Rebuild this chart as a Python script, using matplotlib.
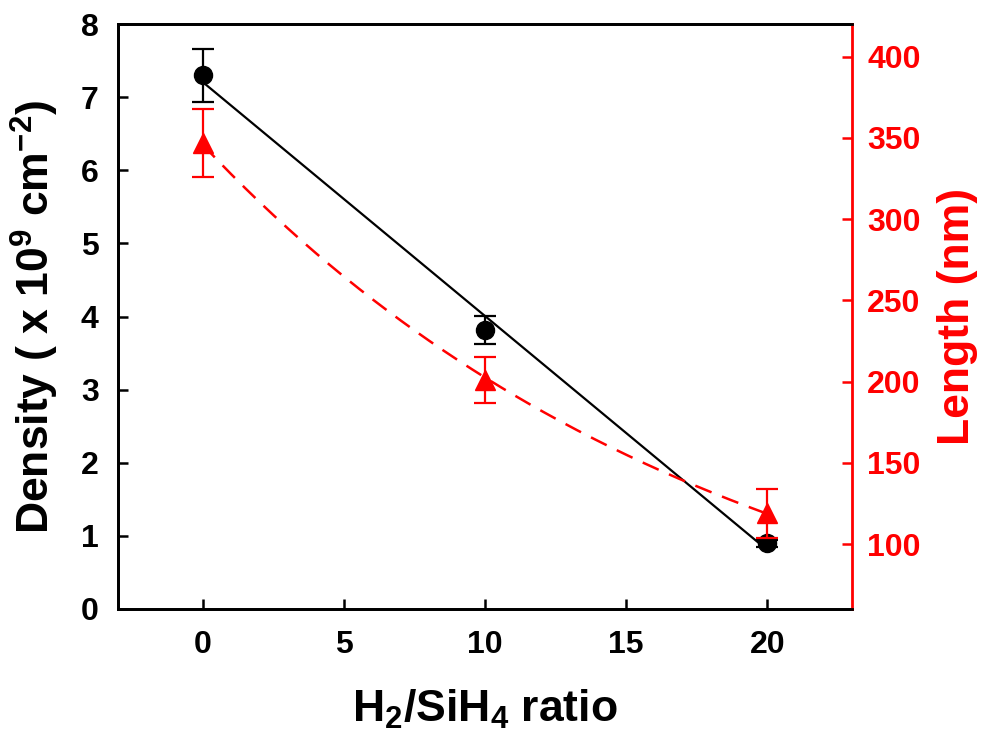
import numpy as np
import matplotlib
matplotlib.use("Agg")
import matplotlib.pyplot as plt

plt.rcParams['font.family'] = ['Liberation Sans', 'DejaVu Sans']
plt.rcParams['font.weight'] = 'bold'
plt.rcParams['mathtext.fontset'] = 'custom'
plt.rcParams['mathtext.rm'] = 'Liberation Sans:bold'
plt.rcParams['mathtext.it'] = 'Liberation Sans:bold'
plt.rcParams['mathtext.bf'] = 'Liberation Sans:bold'

# data
ratio = [0, 10, 20]
density = [7.3, 3.82, 0.9]
density_err = [0.36, 0.19, 0.05]
length = [347, 201, 119]
length_err = [21, 14, 15]

# fits: linear for density, exponential for length
p_dens = np.polyfit(ratio, density, 1)
p_len = np.polyfit(ratio, np.log(length), 1)
xf = np.linspace(0, 20, 200)

fig = plt.figure(figsize=(9.95, 7.34), dpi=100)
ax = fig.add_axes([0.1186, 0.1703, 0.7377, 0.797])
ax2 = ax.twinx()

ax.plot(xf, np.polyval(p_dens, xf), color='black', lw=1.6, zorder=2)
ax.errorbar(ratio, density, yerr=density_err, fmt='o', color='black', ms=13,
            capsize=8, elinewidth=1.6, capthick=1.6, zorder=3)

ax2.plot(xf, np.exp(np.polyval(p_len, xf)), color='red', lw=1.8, ls=(0, (7, 4.5)), zorder=2)
ax2.errorbar(ratio, length, yerr=length_err, fmt='^', color='red', ms=14,
             capsize=8, elinewidth=1.6, capthick=1.6, zorder=3)

ax.set_xlim(-3, 23)
ax.set_ylim(0, 8)
ax2.set_ylim(60, 420)
ax.set_xticks([0, 5, 10, 15, 20])
ax.set_yticks(range(0, 9))
ax2.set_yticks([100, 150, 200, 250, 300, 350, 400])

ax.tick_params(axis='x', direction='in', length=7, width=1.8, labelsize=23, pad=15, top=False)
ax.tick_params(axis='y', direction='in', length=7, width=1.8, labelsize=23, pad=14)
ax2.tick_params(axis='y', direction='in', length=7, width=1.8, labelsize=23, pad=11,
                colors='red')

for s in ['left', 'bottom', 'top']:
    ax.spines[s].set_linewidth(2)
    ax2.spines[s].set_linewidth(2)
ax2.spines['right'].set_linewidth(2)
ax2.spines['right'].set_color('red')
ax.spines['right'].set_visible(False)

ax.set_xlabel(r'H$_{2}$/SiH$_{4}$ ratio', fontsize=32, fontweight='bold', labelpad=20)
ax.set_ylabel(r'Density ( x 10$^{9}$ cm$^{-2}$)', fontsize=32, fontweight='bold', labelpad=14)
ax2.set_ylabel('Length (nm)', fontsize=32, fontweight='bold', color='red', labelpad=12)

fig.savefig('out.png', dpi=100)
